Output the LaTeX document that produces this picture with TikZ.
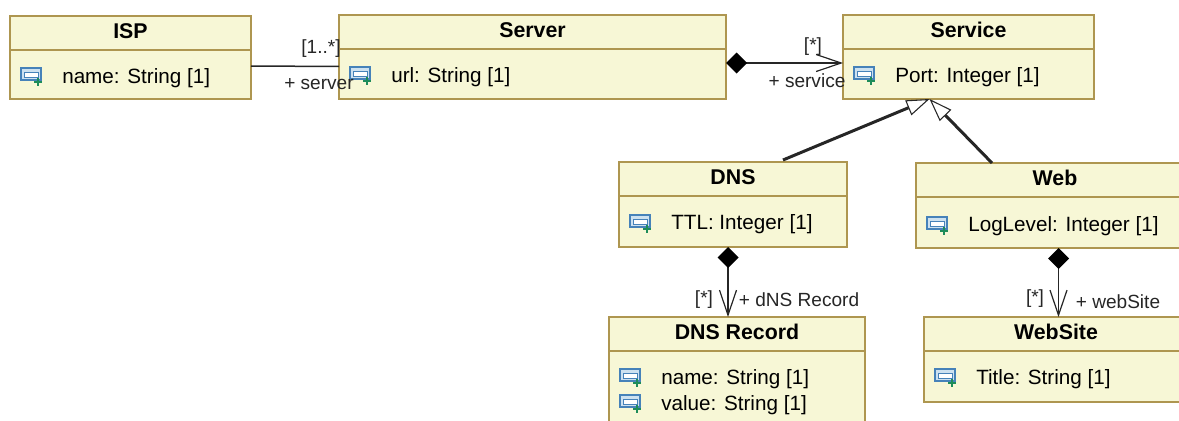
\documentclass[tikz,border=0pt]{standalone}
\usepackage{fontspec}
\setmainfont{Liberation Sans}
\usetikzlibrary{positioning,arrows.meta}
\definecolor{classfill}{RGB}{247,247,214}
\definecolor{classborder}{RGB}{174,150,80}
\definecolor{iconblue}{RGB}{70,130,185}
\definecolor{iconpale}{RGB}{205,225,240}
\definecolor{icongreen}{RGB}{30,140,90}
\newdimen\px
\px=0.75pt

\begin{document}
\begin{tikzpicture}[
    x=0.75pt, y=-0.75pt,
    head/.style={rectangle, draw=classborder, fill=classfill, line width=1.5\px, outer sep=0pt,
                 minimum height=34\px, text height=14\px, text depth=4\px, text centered,
                 anchor=north west, font=\fontsize{16pt}{18pt}\selectfont\bfseries},
    body/.style={rectangle, draw=classborder, fill=classfill, line width=1.5\px, outer sep=0pt},
    attr/.style={anchor=west, inner sep=0pt, font=\fontsize{15.5pt}{18pt}\selectfont},
    tag/.style={inner sep=0pt, text=black!85, font=\fontsize{14.3pt}{17pt}\selectfont},
    assoc/.style={line width=1.5\px, black!85},
    compose/.style={assoc, {Diamond[length=15.75pt,width=15.75pt,black]}-{Straight Barb[length=18.75pt,width=12.75pt,line width=.9pt]}},
    inherit/.style={line width=3\px, black!85, -{Triangle[open,length=17.25pt,width=12pt,line width=.8pt,fill=white]}},
    attricon/.pic={
        \draw[iconblue, fill=iconpale, line width=1.2\px] (-10,-7) rectangle (10,5);
        \draw[iconblue, fill=white, line width=1\px] (-7,-3) rectangle (7,2);
        \draw[icongreen, line width=1.6\px] (7,3) -- (7,11) (3,7) -- (11,7);
    }
]
\clip (0,0) rectangle (1179,421);
\useasboundingbox (0,0) rectangle (1179,421);

% Classes
\node[head, minimum width=241\px] (ispHead) at (10,16) {ISP};
\node[body, minimum width=241\px, minimum height=49\px, below=0pt of ispHead] (ispBody) {};
\node[head, minimum width=387\px] (serverHead) at (339,15) {Server};
\node[body, minimum width=387\px, minimum height=50\px, below=0pt of serverHead] (serverBody) {};
\node[head, minimum width=251\px] (serviceHead) at (843,15) {Service};
\node[body, minimum width=251\px, minimum height=50\px, below=0pt of serviceHead] (serviceBody) {};
\node[head, minimum width=228\px] (dnsHead) at (619,162) {DNS};
\node[body, minimum width=228\px, minimum height=51\px, below=0pt of dnsHead] (dnsBody) {};
\node[head, minimum width=278\px] (webHead) at (916,163) {Web};
\node[body, minimum width=278\px, minimum height=51\px, below=0pt of webHead] (webBody) {};
\node[head, minimum width=256\px] (recordHead) at (609,317) {DNS Record};
\node[body, minimum width=256\px, minimum height=80\px, below=0pt of recordHead] (recordBody) {};
\node[head, minimum width=264\px] (siteHead) at (924,317) {WebSite};
\node[body, minimum width=264\px, minimum height=51\px, below=0pt of siteHead] (siteBody) {};

% Attributes
\node[attr] (ispName) at (62,78) {name: String [1]};
\node[attr] (serverUrl) at (391,77) {url: String [1]};
\node[attr] (servicePort) at (895,77) {Port: Integer [1]};
\node[attr] (dnsTtl) at (671,224) {TTL: Integer [1]};
\node[attr] (webLevel) at (968,226) {LogLevel: Integer [1]};
\node[attr] (recordName) at (661,379) {name: String [1]};
\node[attr] (recordValue) at (661,405) {value: String [1]};
\node[attr] (siteTitle) at (976,379) {Title: String [1]};
\foreach \x/\y in {31/75, 360/74, 864/74, 640/222, 937/224, 630/376, 630/402, 945/376}
    \pic at (\x,\y) {attricon};

% Associations
\draw[assoc] ([yshift=8.5\px]ispBody.east) -- ([yshift=7.5\px]serverBody.west);
\draw[compose] ([yshift=11\px]serverBody.east) -- ([yshift=11\px]serviceBody.west);
\draw[compose] ([xshift=-5\px]dnsBody.south) -- ([xshift=-9\px]recordHead.north);
\draw[compose] ([xshift=3.5\px]webBody.south) -- ([xshift=2.5\px]siteHead.north);

% Generalizations
\draw[inherit] ([xshift=50\px,yshift=2\px]dnsHead.north) -- ([xshift=-39\px]serviceBody.south);
\draw[inherit] ([xshift=-63\px]webHead.north) -- ([xshift=-39\px]serviceBody.south);

% Role and multiplicity labels
\node[tag] (ispMult) at (321,49) {[1..*]};
\node[tag] (ispRole) at (319,84) {+ server};
\node[tag] (serviceMult) at (813,47) {[*]};
\node[tag] (serviceRole) at (807,81) {+ service};
\node[tag] (recordMult) at (704,300) {[*]};
\node[tag] (recordRole) at (799,300) {+ dNS Record};
\node[tag] (siteMult) at (1035,299) {[*]};
\node[tag] (siteRole) at (1118,302) {+ webSite};

\end{tikzpicture}
\end{document}
